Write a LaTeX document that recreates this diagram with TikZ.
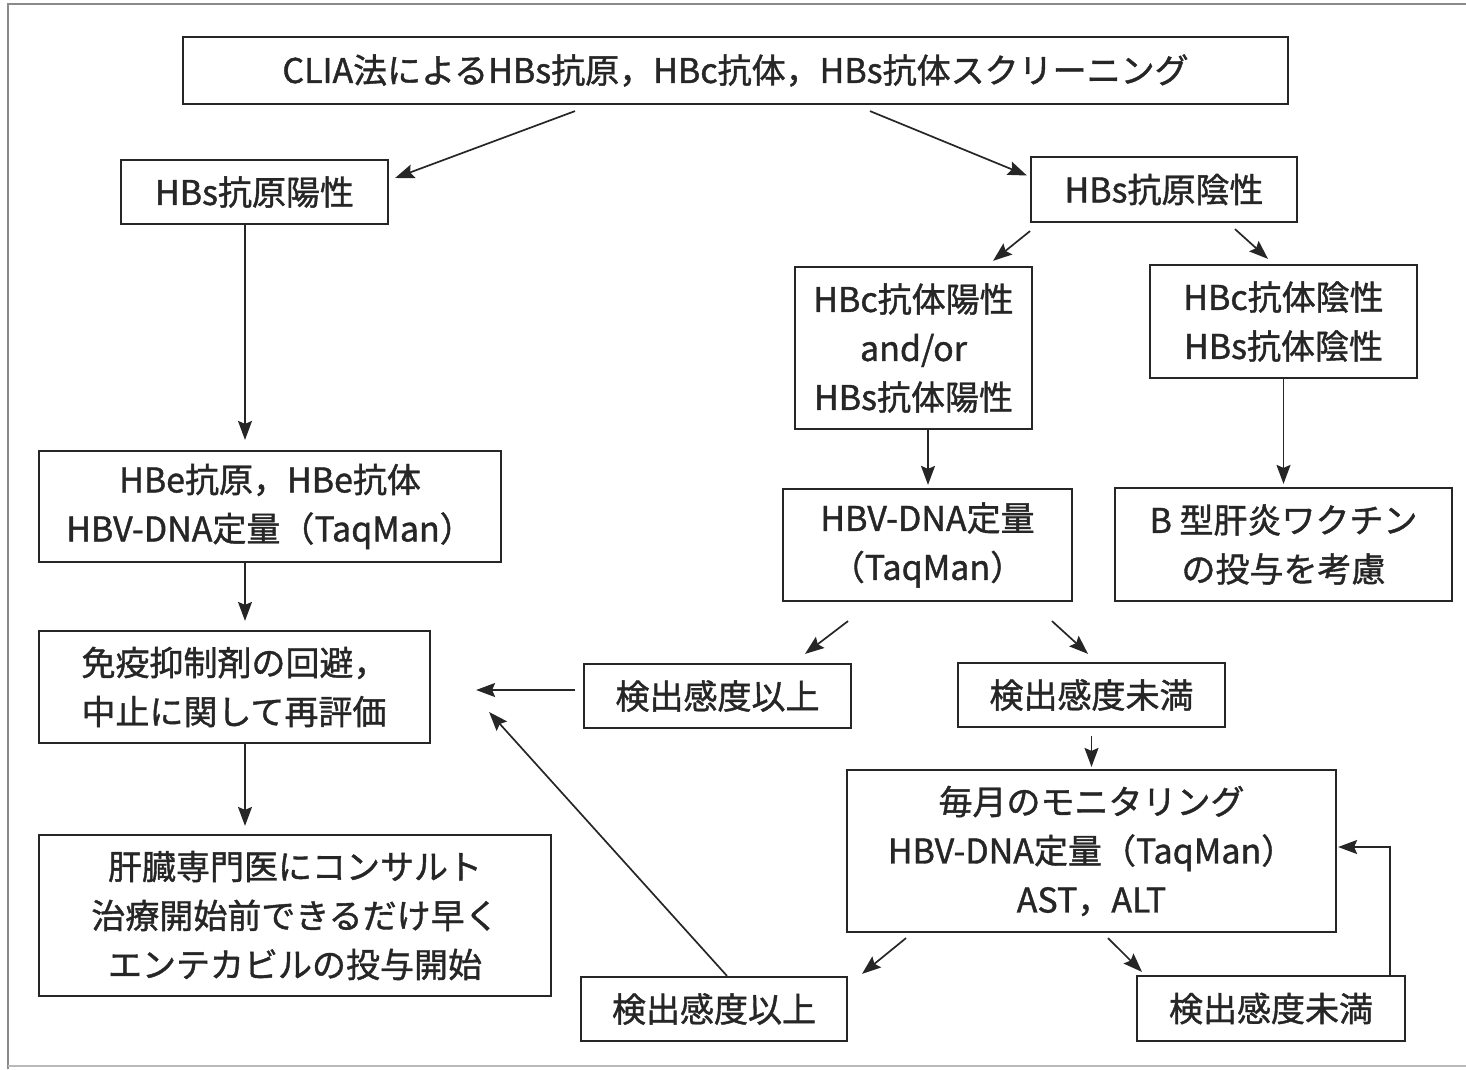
\documentclass[tikz,border=0pt]{standalone}
\usepackage{fontspec}
\newfontfamily\jp[FakeBold=1.2]{Noto Sans CJK JP}
\usetikzlibrary{arrows.meta}
\definecolor{ink}{HTML}{262626}
\definecolor{frame}{HTML}{8A8A8A}
\begin{document}
\begin{tikzpicture}[x=1pt,y=-1pt,
  box/.style={draw=ink, line width=2.2pt, rectangle, inner sep=0pt, align=center,
    font=\jp\fontsize{34}{49}\selectfont, text=ink},
  arr/.style={draw=ink, line width=1.7pt, -{Stealth[length=19pt,width=14pt,inset=3pt]}}
]
\useasboundingbox (0,0) rectangle (1466,1069);
% outer frame
\draw[frame, line width=2pt] (8,1069) -- (8,4) -- (1466,4);
\draw[frame!60, line width=1.2pt] (8,1066) -- (1466,1066);

% boxes
\node[box, minimum width=1105pt, minimum height=67pt] (top) at (735.5,70.5)
  {CLIA法によるHBs抗原，HBc抗体，HBs抗体スクリーニング};
\node[box, minimum width=267pt, minimum height=64pt] (pos) at (254.5,192) {HBs抗原陽性};
\node[box, minimum width=266pt, minimum height=65pt] (neg) at (1164,189.5) {HBs抗原陰性};
\node[box, minimum width=237pt, minimum height=162pt] (cpos) at (913.5,348)
  {HBc抗体陽性\\and/or\\HBs抗体陽性};
\node[box, minimum width=267pt, minimum height=113pt] (cneg) at (1283.5,321.5)
  {HBc抗体陰性\\HBs抗体陰性};
\node[box, minimum width=462pt, minimum height=111pt] (hbe) at (270,506.5)
  {HBe抗原，HBe抗体\\HBV-DNA定量（TaqMan）};
\node[box, minimum width=289pt, minimum height=112pt] (dna) at (927.5,545)
  {HBV-DNA定量\\（TaqMan）};
\node[box, minimum width=337pt, minimum height=113pt] (vac) at (1283.5,544.5)
  {B 型肝炎ワクチン\\の投与を考慮};
\node[box, align=left, minimum width=391pt, minimum height=112pt] (eval) at (234.5,687)
  {免疫抑制剤の回避，\\中止に関して再評価};
\node[box, minimum width=267pt, minimum height=64pt] (dA) at (717.5,696) {検出感度以上};
\node[box, minimum width=267pt, minimum height=64pt] (uA) at (1091.5,695) {検出感度未満};
\node[box, minimum width=489pt, minimum height=162pt] (mon) at (1091.5,851)
  {毎月のモニタリング\\HBV-DNA定量（TaqMan）\\AST，ALT};
\node[box, minimum width=512pt, minimum height=161pt] (cons) at (295,915.5)
  {肝臓専門医にコンサルト\\治療開始前できるだけ早く\\エンテカビルの投与開始};
\node[box, minimum width=266pt, minimum height=64pt] (dB) at (714,1009) {検出感度以上};
\node[box, minimum width=268pt, minimum height=65pt] (uB) at (1271,1008.5) {検出感度未満};

% connectors
\draw[arr] ([shift={(-160.5,6)}]top.south) -- ([shift={(6,-14)}]pos.east);
\draw[arr] ([shift={(134.5,6)}]top.south) -- ([shift={(-3,-14)}]neg.west);
\draw[arr] ([xshift=-9.5pt]pos.south) -- ([shift={(-25,-10)}]hbe.north);
\draw[arr] ([shift={(-134,8)}]neg.south) -- ([shift={(79.5,-5)}]cpos.north);
\draw[arr] ([shift={(71,6)}]neg.south) -- ([shift={(-15.5,-5)}]cneg.north);
\draw[arr] ([shift={(14.5,0)}]cpos.south) -- ([shift={(0.5,-3)}]dna.north);
\draw[arr] (cneg.south) -- ([shift={(0,-3)}]vac.north);
\draw[arr] ([shift={(-25,0)}]hbe.south) -- ([shift={(10.5,-9)}]eval.north);
\draw[arr] ([shift={(-79.5,19)}]dna.south) -- ([shift={(87.5,-9)}]dA.north);
\draw[arr] ([shift={(124.5,19)}]dna.south) -- ([shift={(-3.5,-8)}]uA.north);
\draw[arr] ([shift={(-8,-6)}]dA.west) -- ([shift={(45,3)}]eval.east);
\draw[arr] ([shift={(0,8)}]uA.south) -- ([shift={(0,-2)}]mon.north);
\draw[arr] ([shift={(10.5,0)}]eval.south) -- ([shift={(-50,-8)}]cons.north);
\draw[arr] ([shift={(-185.5,5)}]mon.south) -- ([shift={(148,-2)}]dB.north);
\draw[arr] ([shift={(16.5,5)}]mon.south) -- ([shift={(-129,-3)}]uB.north);
\draw[arr] ([shift={(13,0)}]dB.north) -- ([shift={(58,25)}]eval.east);
\draw[arr] ([shift={(119,0)}]uB.north) |- ([shift={(1,-4)}]mon.east);
\end{tikzpicture}
\end{document}
